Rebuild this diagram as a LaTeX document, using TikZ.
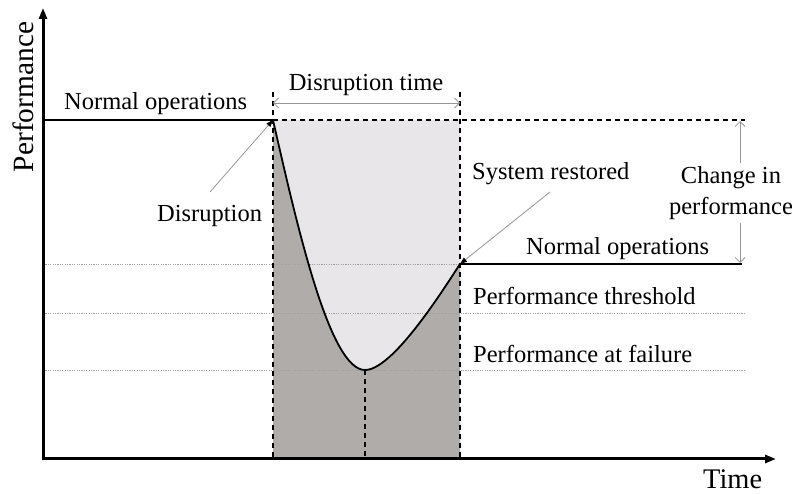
\documentclass[tikz,border=0pt]{standalone}
\usepackage{fontspec}
\setmainfont{Liberation Serif}
\usetikzlibrary{arrows.meta}
\definecolor{lightfill}{RGB}{232,230,232}
\definecolor{darkfill}{RGB}{176,172,170}
\definecolor{leadergray}{RGB}{150,150,150}
\begin{document}
\begin{tikzpicture}[x=1pt,y=-1pt,
  lbl/.style={inner sep=0pt, font=\fontsize{24.5}{31}\selectfont},
  axisline/.style={line width=3pt, -{Triangle[length=11pt,width=8pt]}},
  guide/.style={line width=1.2pt, dash pattern=on 5pt off 4pt},
  level/.style={draw=gray!75, line width=0.8pt, dash pattern=on 1.2pt off 1.2pt},
  measure/.style={draw=leadergray, line width=0.8pt, {Straight Barb[length=5pt,width=10pt]}-{Straight Barb[length=5pt,width=10pt]}},
  leader/.style={draw=leadergray, line width=0.8pt, -{Triangle[length=7pt,width=5pt,color=black]}},
  solidline/.style={line width=1.8pt}
]
\useasboundingbox (0,0) rectangle (796,494);

% key points
\coordinate (O) at (43,459);
\coordinate (Ytop) at (43,8);
\coordinate (Xend) at (776,459);
\coordinate (D) at (273,120);
\coordinate (M) at (365,370);
\coordinate (R) at (460,264);

% shaded regions
\fill[lightfill] (273,120) rectangle (460,459);
\fill[darkfill] (273,459) -- (D) .. controls (298,230) and (330,370) .. (M)
   .. controls (392,370) and (440,295) .. (R) -- (460,459) -- cycle;

% performance levels
\draw[level] (43,264) -- (R);
\draw[level] (43,313) -- (745,313);
\draw[level] (43,370) -- (745,370);

% dashed guides
\draw[guide] (273,92) -- (273,459);
\draw[guide] (460,92) -- (460,459);
\draw[guide] (D) -- (745,120);
\draw[guide] (M) -- (365,459);

% performance curve
\draw[solidline] (43,120) -- (D);
\draw[solidline] (D) .. controls (298,230) and (330,370) .. (M)
   .. controls (392,370) and (440,295) .. (R);
\draw[solidline] (R) -- (742,264);

% axes
\draw[axisline] (43,460.5) -- (Ytop);
\draw[axisline] (41.5,459) -- (Xend);
\node[lbl, font=\fontsize{29.4}{34}\selectfont, rotate=90, anchor=base] (ylab) at (33,97) {Performance};
\node[lbl, font=\fontsize{28.4}{34}\selectfont, anchor=base west] (xlab) at (703,489) {Time};

% disruption time
\coordinate (dtL) at (273,103);
\coordinate (dtR) at (460,103);
\draw[measure] (dtL) -- (dtR);
\node[lbl, anchor=base] (dtime) at (366,91) {Disruption time};

% change in performance
\coordinate (cpT) at (740,121);
\coordinate (cpB) at (740,263);
\draw[measure] (cpT) -- (cpB);
\node[lbl, align=center, fill=white, inner sep=3pt] (change) at (731,193) {Change in\\performance};

% labels
\node[lbl, anchor=base west] (normal1) at (64,110) {Normal operations};
\node[lbl, anchor=base west] (normal2) at (526,255) {Normal operations};
\node[lbl, anchor=base west] (disr) at (157,222) {Disruption};
\node[lbl, anchor=base west] (sysres) at (472,180) {System restored};
\node[lbl, anchor=base west] (thresh) at (473,305) {Performance threshold};
\node[lbl, anchor=base west] (fail) at (473,363) {Performance at failure};

% leaders
\coordinate (disrL) at (210,192);
\coordinate (sysL) at (550,192);
\draw[leader] (disrL) -- (D);
\draw[leader] (sysL) -- (R);
\end{tikzpicture}
\end{document}
